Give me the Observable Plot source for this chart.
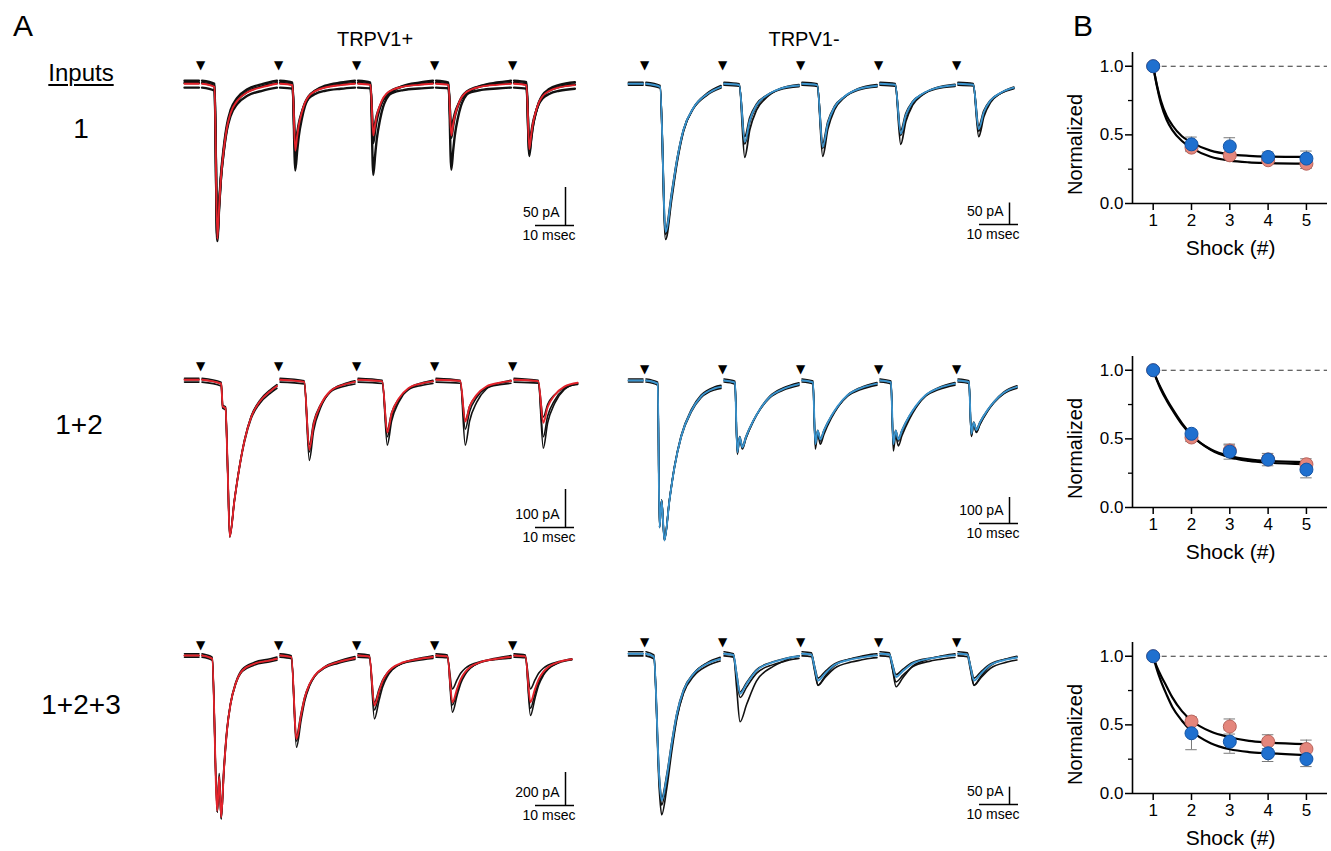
<!DOCTYPE html>
<html>
<head>
<meta charset="utf-8">
<script src="https://cdn.jsdelivr.net/npm/d3@7"></script>
<script src="https://cdn.jsdelivr.net/npm/@observablehq/plot@0.6"></script>
<style>
  body { margin: 0; background: #fff; }
  #fig { position: relative; width: 1331px; height: 851px; overflow: hidden; background: #fff;
         font-family: "Liberation Sans", Arial, Helvetica, sans-serif; color: #000; }
  .lbl { position: absolute; line-height: 1; transform: translate(-50%, -50%); white-space: nowrap; }
  .pl { position: absolute; }
  .pl svg { display: block; overflow: visible; }
</style>
</head>
<body>
<div id="fig"></div>
<script>
// ---------------- DATA ----------------
// stimulus times (ms) – five shocks
const shocksMs = [0, 20, 40, 60, 80];
const scaleMs = 10;

// Panel A traces: peak amplitudes (pA) per shock; average (coloured) and individual trials (black)
// Row 1 (input 1)
const r1PlusAvg = [204, 88, 68, 68, 86];
const r1PlusTrials = [[204, 118, 124, 117, 99], [197, 76, 59, 55, 76], [208, 92, 79, 72, 92]];
const r1PlusOffsets = [4, -5, 1];
const r1PlusShape = [[0.4, 0], [3.6, 0.02], [4.3, 1], [4.8, 0.78], [5.2, 0.62], [6.0, 0.42], [6.8, 0.28], [7.7, 0.19], [9.4, 0.11], [12, 0.055], [16, 0.02], [19.6, 0]];

const r1MinusAvg = [344, 135, 147, 116, 105];
const r1MinusTrials = [[365, 174, 172, 144, 126], [335, 120, 135, 105, 95], [350, 140, 150, 120, 110]];
const r1MinusOffsets = [3, -3, 0];
const r1MinusFirst = [[0.4, 0], [4.0, 0.02], [5.4, 1], [7.0, 0.74], [8.3, 0.52], [10, 0.31], [12.6, 0.16], [16, 0.07], [19.6, 0.02]];
const r1MinusLater = [[0.4, 0], [4.3, 0.02], [5.7, 1], [7.0, 0.63], [8.7, 0.37], [11.3, 0.2], [14.7, 0.086], [19.6, 0.03]];

// Row 2 (inputs 1+2)
const r2PlusAvg = [413, 184, 139, 110, 113];
const r2PlusTrials = [[418, 216, 176, 176, 184], [405, 165, 126, 100, 92], [410, 190, 150, 130, 150]];
const r2PlusOffsets = [4, -6, 0];
const r2PlusFirst = [[0.4, 0], [5.3, 0.025], [5.7, 0.17], [6.4, 0.18], [7.0, 0.6], [7.5, 1], [8.7, 0.77], [10, 0.555], [11.3, 0.386], [13, 0.237], [15.1, 0.142], [18.1, 0.068], [19.6, 0.04]];
const r2PlusLater = [[0.4, 0], [6.6, 0.03], [7.9, 1], [9.0, 0.64], [10.8, 0.36], [13.3, 0.16], [16.7, 0.07], [19.6, 0.03]];

const r2MinusAvg = [615, 276, 244, 244, 205];
const r2MinusTrials = [[620, 290, 270, 277, 220], [605, 265, 235, 235, 195], [615, 280, 250, 250, 215]];
const r2MinusOffsets = [6, -6, 0];
const r2MinusFirst = [[0.4, 0], [3.4, 0.02], [3.85, 0.92], [4.4, 0.75], [5.1, 1], [6.4, 0.75], [7.7, 0.54], [9.4, 0.35], [12.0, 0.19], [14.5, 0.10], [17.9, 0.05], [19.6, 0.04]];
const r2MinusLater = [[0.4, 0], [3.2, 0.03], [3.8, 1], [4.4, 0.79], [5.1, 0.93], [6.0, 0.79], [7.9, 0.56], [9.6, 0.40], [12.1, 0.23], [15.5, 0.12], [19.6, 0.05]];

// Row 3 (inputs 1+2+3)
const r3PlusAvg = [980, 505, 303, 283, 283];
const r3PlusTrials = [[1000, 566, 394, 354, 374], [940, 475, 273, 192, 192], [990, 520, 330, 300, 320]];
const r3PlusOffsets = [10, -10, 0];
const r3PlusFirst = [[0.4, 0], [3.0, 0.02], [4.3, 0.96], [4.8, 0.75], [5.3, 1], [6.0, 0.71], [6.8, 0.46], [7.7, 0.3], [9.0, 0.175], [10.7, 0.093], [13.7, 0.052], [17.9, 0.03], [19.6, 0.02]];
const r3PlusLater = [[0.4, 0], [3.3, 0.02], [4.6, 1], [5.8, 0.71], [6.7, 0.51], [7.9, 0.35], [9.2, 0.245], [11.8, 0.14], [15.2, 0.08], [19.6, 0.03]];

const r3MinusAvg = [423, 115, 77, 67, 77];
const r3MinusTrials = [[470, 202, 96, 101, 96], [430, 120, 85, 75, 85], [415, 110, 70, 60, 70]];
const r3MinusOffsets = [6, -6, 0];
const r3MinusFirst = [[0.4, 0], [2.4, 0.02], [3.8, 0.85], [4.4, 1], [5.7, 0.84], [7.0, 0.61], [8.3, 0.41], [10.0, 0.25], [12.6, 0.136], [16.0, 0.068], [19.4, 0.034]];
const r3MinusLater = [[0.4, 0], [2.8, 0.03], [3.6, 0.5], [4.5, 1], [6.2, 0.75], [8.7, 0.42], [13.0, 0.21], [15.5, 0.14], [18.1, 0.08], [19.6, 0.06]];

// scale bars (pA)
const scaleBarPA = [50, 50, 100, 100, 200, 50];

// Panel B: normalized amplitude vs shock number
const shockNo = [1, 2, 3, 4, 5];
const b1Red = [1.0, 0.407, 0.351, 0.315, 0.29];
const b1RedErr = [0, 0.02, 0.02, 0.02, 0.035];
const b1Blue = [1.0, 0.431, 0.416, 0.339, 0.327];
const b1BlueErr = [0, 0.053, 0.063, 0.036, 0.055];
const b2Red = [1.0, 0.51, 0.415, 0.35, 0.315];
const b2RedErr = [0, 0.03, 0.04, 0.03, 0.04];
const b2Blue = [1.0, 0.537, 0.407, 0.349, 0.276];
const b2BlueErr = [0, 0.03, 0.055, 0.045, 0.06];
const b3Red = [1.0, 0.524, 0.488, 0.378, 0.324];
const b3RedErr = [0, 0.03, 0.055, 0.05, 0.065];
const b3Blue = [1.0, 0.439, 0.378, 0.293, 0.251];
const b3BlueErr = [0, 0.12, 0.085, 0.06, 0.055];

// fitted exponential curves
const fitX = [1, 1.1, 1.2, 1.35, 1.5, 1.75, 2, 2.5, 3, 3.5, 4, 5];
const b1FitA = [1, 0.86, 0.75, 0.64, 0.57, 0.49, 0.445, 0.385, 0.358, 0.347, 0.342, 0.339];
const b1FitB = [1, 0.85, 0.73, 0.61, 0.535, 0.455, 0.405, 0.34, 0.312, 0.30, 0.295, 0.29];
const b2FitA = [1, 0.93, 0.87, 0.79, 0.72, 0.615, 0.53, 0.42, 0.365, 0.34, 0.327, 0.315];
const b2FitB = [1, 0.925, 0.86, 0.78, 0.71, 0.605, 0.525, 0.425, 0.375, 0.35, 0.338, 0.33];
const b3FitA = [1, 0.92, 0.86, 0.78, 0.70, 0.60, 0.532, 0.451, 0.41, 0.383, 0.371, 0.359];
const b3FitB = [1, 0.90, 0.82, 0.72, 0.63, 0.53, 0.455, 0.366, 0.322, 0.302, 0.293, 0.28];

// ---------------- LAYOUT / STYLE ----------------
const FONT = '"Liberation Sans", Arial, Helvetica, sans-serif';
const RED = "#e3232b", BLUE = "#3a93cd";
const pxPerMs = 3.9;
const traceStart = -4.1, traceEnd = 97;
const fig = document.getElementById("fig");

function label(text, cx, cy, size, extra) {
  const d = document.createElement("div");
  d.className = "lbl";
  d.textContent = text;
  d.style.left = cx + "px";
  d.style.top = cy + "px";
  d.style.fontSize = size + "px";
  if (extra) Object.assign(d.style, extra);
  fig.appendChild(d);
}
function place(node, left, top) {
  const w = document.createElement("div");
  w.className = "pl";
  w.style.left = left + "px";
  w.style.top = top + "px";
  w.appendChild(node);
  fig.appendChild(w);
}

function buildTrace(amps, first, later, offset) {
  const pts = [{t: traceStart, i: offset}, {t: -2, i: offset}, {t: -0.4, i: offset}, {t: 0, i: null}];
  shocksMs.forEach((s, k) => {
    const shape = k === 0 ? first : later;
    shape.forEach(([dt, f]) => {
      if (s + dt <= traceEnd) pts.push({t: s + dt, i: offset - amps[k] * f});
    });
    if (k < shocksMs.length - 1) pts.push({t: shocksMs[k + 1], i: null});
  });
  return pts;
}

function tracePanel(p) {
  const W = 410;
  const xDom = [(p.left - p.x0) / pxPerMs, (p.left + W - p.x0) / pxPerMs];
  const yDom = [-(p.top + p.height - p.base) / p.k, (p.base - p.top) / p.k];
  const trialRows = p.trials.flatMap((amps, j) =>
    buildTrace(amps, p.first, p.later, p.offsets[j]).map(d => ({...d, trial: j})));
  const avgRows = buildTrace(p.avg, p.first, p.later, 0);
  const barBottom = -(p.barBottom - p.base) / p.k;
  const tBar = (p.barX - p.x0) / pxPerMs;
  const tBarEnd = (p.barEnd - p.x0) / pxPerMs;
  const chart = Plot.plot({
    width: W, height: p.height, margin: 0,
    x: {domain: xDom, axis: null},
    y: {domain: yDom, axis: null},
    style: {background: "transparent", overflow: "visible", fontFamily: FONT, color: "#000"},
    marks: [
      Plot.line(trialRows, {x: "t", y: "i", z: "trial", stroke: "#111", strokeWidth: p.blackWidth, curve: "monotone-x"}),
      Plot.line(avgRows, {x: "t", y: "i", stroke: p.color, strokeWidth: 1.9, curve: "monotone-x"}),
      Plot.text(shocksMs, {x: d => d, y: () => 0, dy: p.arrowY - p.base, text: () => "\u25BC", fontSize: 12, fontFamily: "DejaVu Sans", fill: "#000"}),
      Plot.ruleX([p.barPA], {x: () => tBar, y1: () => barBottom, y2: d => barBottom + d, stroke: "#000", strokeWidth: 1.5}),
      Plot.ruleY([scaleMs], {y: () => barBottom, x1: d => tBarEnd - d, x2: () => tBarEnd, stroke: "#000", strokeWidth: 1.5}),
      Plot.text([p.barPA], {x: () => tBar, y: () => barBottom, dx: -6, dy: -13, text: d => `${d} pA`, textAnchor: "end", fontSize: 14, fill: "#000"}),
      Plot.text([scaleMs], {x: d => tBarEnd - d / 2, y: () => barBottom, dx: -6, dy: 10, text: d => `${d} msec`, fontSize: 14, fill: "#000"})
    ]
  });
  place(chart, p.left, p.top);
}

const leftCol = {left: 175, x0: 200, barX: 565, barEnd: 574};
const rightCol = {left: 619, x0: 644, barX: 1009, barEnd: 1018};
const panels = [
  {...leftCol, avg: r1PlusAvg, trials: r1PlusTrials, offsets: r1PlusOffsets, first: r1PlusShape, later: r1PlusShape, color: RED,
   top: 55, height: 190, base: 83.3, k: 0.76, arrowY: 65, barPA: scaleBarPA[0], barBottom: 225, blackWidth: 2.4},
  {...rightCol, avg: r1MinusAvg, trials: r1MinusTrials, offsets: r1MinusOffsets, first: r1MinusFirst, later: r1MinusLater, color: BLUE,
   top: 55, height: 190, base: 83.3, k: 0.43, arrowY: 65, barPA: scaleBarPA[1], barBottom: 224, blackWidth: 1.8},
  {...leftCol, avg: r2PlusAvg, trials: r2PlusTrials, offsets: r2PlusOffsets, first: r2PlusFirst, later: r2PlusLater, color: RED,
   top: 355, height: 195, base: 379.3, k: 0.38, arrowY: 366, barPA: scaleBarPA[2], barBottom: 527, blackWidth: 1.6},
  {...rightCol, avg: r2MinusAvg, trials: r2MinusTrials, offsets: r2MinusOffsets, first: r2MinusFirst, later: r2MinusLater, color: BLUE,
   top: 355, height: 195, base: 380, k: 0.26, arrowY: 369, barPA: scaleBarPA[3], barBottom: 523, blackWidth: 1.6},
  {...leftCol, avg: r3PlusAvg, trials: r3PlusTrials, offsets: r3PlusOffsets, first: r3PlusFirst, later: r3PlusLater, color: RED,
   top: 632, height: 200, base: 655, k: 0.165, arrowY: 645, barPA: scaleBarPA[4], barBottom: 805, blackWidth: 1.6},
  {...rightCol, avg: r3MinusAvg, trials: r3MinusTrials, offsets: r3MinusOffsets, first: r3MinusFirst, later: r3MinusLater, color: BLUE,
   top: 632, height: 200, base: 653.3, k: 0.347, arrowY: 642, barPA: scaleBarPA[5], barBottom: 804, blackWidth: 1.6}
];
panels.forEach(tracePanel);

// ---------- Panel B ----------
function rows(vals, errs) { return shockNo.map((x, i) => ({x, y: vals[i], e: errs[i]})); }
function errMarks(data) {
  const d = data.filter(r => r.e > 0);
  return [
    Plot.ruleX(d, {x: "x", y1: r => r.y - r.e, y2: r => r.y + r.e, stroke: "#7a7a7a", strokeWidth: 1}),
    Plot.ruleY(d, {y: r => r.y + r.e, x1: r => r.x - 0.15, x2: r => r.x + 0.15, stroke: "#7a7a7a", strokeWidth: 1}),
    Plot.ruleY(d, {y: r => r.y - r.e, x1: r => r.x - 0.15, x2: r => r.x + 0.15, stroke: "#7a7a7a", strokeWidth: 1})
  ];
}
function ratioPanel(top, red, redErr, blue, blueErr, fitA, fitB) {
  const redRows = rows(red, redErr), blueRows = rows(blue, blueErr);
  const fitRows = fitX.flatMap((x, i) => [{x, y: fitA[i], c: "A"}, {x, y: fitB[i], c: "B"}]);
  const chart = Plot.plot({
    width: 271, height: 225, marginLeft: 72, marginRight: 4, marginTop: 12, marginBottom: 62,
    x: {domain: [0.46, 5.55], axis: null},
    y: {domain: [0, 1.1], axis: null},
    style: {background: "transparent", overflow: "visible", fontFamily: FONT, color: "#000"},
    marks: [
      Plot.ruleY([1], {x1: 1, x2: 5.55, stroke: "#333", strokeWidth: 1.2, strokeDasharray: "5,4"}),
      Plot.ruleX([0.46], {y1: 0, y2: 1.1, stroke: "#000", strokeWidth: 1.6}),
      Plot.ruleY([0], {x1: 0.46, x2: 5.55, stroke: "#000", strokeWidth: 1.6}),
      Plot.axisY([0, 0.5, 1], {anchor: "left", tickSize: 7, tickPadding: 2, tickFormat: d3.format(".1f"), fontSize: 17, label: null, strokeWidth: 1.5}),
      Plot.axisY([0.25, 0.75], {anchor: "left", tickSize: 4, tickFormat: () => "", label: null, strokeWidth: 1.3}),
      Plot.axisX(shockNo, {anchor: "bottom", tickSize: 7, tickPadding: 3, tickFormat: d3.format("d"), fontSize: 17, label: null, strokeWidth: 1.5}),
      ...errMarks(redRows),
      ...errMarks(blueRows),
      Plot.line(fitRows, {x: "x", y: "y", z: "c", stroke: "#000", strokeWidth: 2.2, curve: "monotone-x"}),
      Plot.dot(redRows, {x: "x", y: "y", r: 6.5, fill: "#e4867c", stroke: "#b9645c", strokeWidth: 1}),
      Plot.dot(blueRows, {x: "x", y: "y", r: 6.5, fill: "#1f70cf", stroke: "#1455a6", strokeWidth: 1}),
      Plot.text(["Normalized"], {x: () => 0.46, y: () => 0.43, dx: -57, rotate: -90, fontSize: 20, fill: "#000"}),
      Plot.text(["Shock (#)"], {x: () => 3.02, y: () => 0, dy: 45, fontSize: 21, fill: "#000"})
    ]
  });
  place(chart, 1060, top);
}
ratioPanel(40, b1Red, b1RedErr, b1Blue, b1BlueErr, b1FitA, b1FitB);
ratioPanel(343.5, b2Red, b2RedErr, b2Blue, b2BlueErr, b2FitA, b2FitB);
ratioPanel(630, b3Red, b3RedErr, b3Blue, b3BlueErr, b3FitA, b3FitB);

// ---------- text labels ----------
label("A", 23, 26, 30);
label("B", 1083, 26, 30);
label("TRPV1+", 375, 39, 20);
label("TRPV1-", 804, 39, 20);
label("Inputs", 81, 73, 24, {textDecoration: "underline", textUnderlineOffset: "3px"});
label("1", 81, 129, 28);
label("1+2", 79, 425, 28);
label("1+2+3", 81, 705, 28);
</script>
</body>
</html>
